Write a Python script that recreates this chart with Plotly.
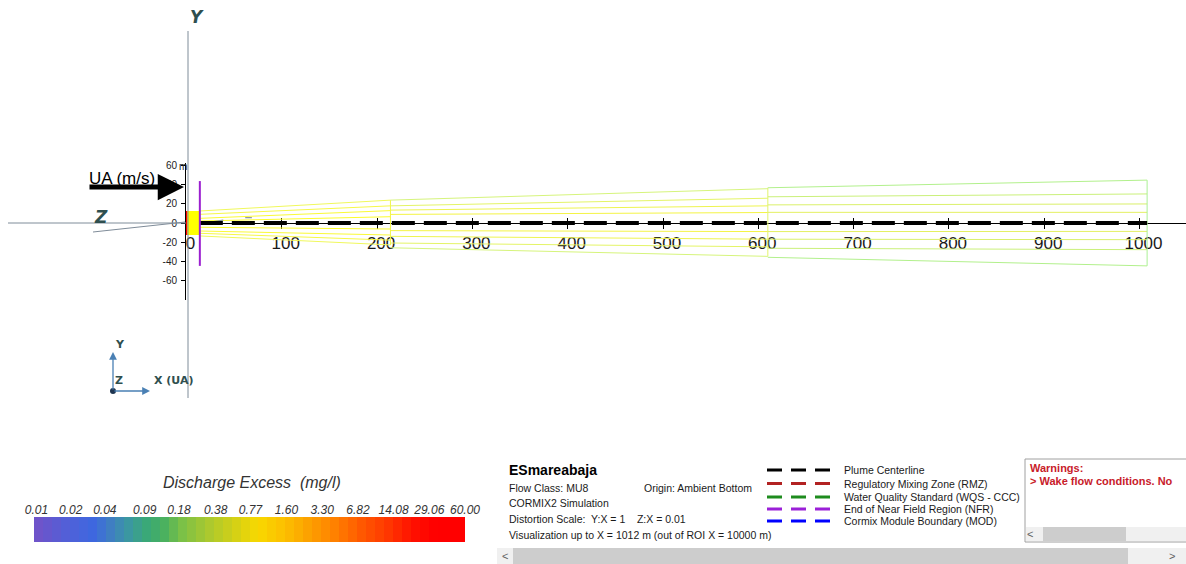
import numpy as np
import plotly.graph_objects as go

W, H = 1186, 564
FONT = "Liberation Sans, Arial, sans-serif"

# ---------------- plume geometry (metres) ----------------
# downstream stations where the plume outline sections break
section_x = [14, 214, 610, 1008]

# lateral offsets of the outline contours at the start / end of each section
# (outermost upper contour first, outermost lower contour last)
contour_start = [
    [12.6, 9.1, 4.9, 2.1, -4.5, -8.4, -10.8, -13.6],
    [24.0, 18.0, 13.5, 9.0, -8.0, -14.0, -21.0, -26.0],
    [37.0, 27.5, 19.0, 11.2, -9.0, -17.0, -26.5, -36.0],
]
contour_end = [
    [24.0, 18.0, 13.0, 6.6, -6.3, -12.6, -18.0, -23.0],
    [36.0, 26.0, 18.0, 11.0, -9.0, -17.0, -25.0, -35.0],
    [45.0, 30.5, 20.0, 11.2, -8.8, -17.5, -28.0, -45.0],
]
contour_colors = [
    ["#F0F85C", "#F6F848", "#FAFA36", "#FCFC2C", "#FCFC2C", "#FAFA36", "#F6F848", "#F0F85C"],
    ["#D6F47C", "#E4F466", "#EEF450", "#F4F444", "#F4F444", "#EEF450", "#E4F466", "#D6F47C"],
    ["#B2F08C", "#CAF07A", "#DAF06A", "#E4F060", "#E4F060", "#DAF06A", "#CAF07A", "#B2F08C"],
]
# closing cross-sections at the end of each section
section_span = [(-23.0, 24.0), (-35.0, 37.0), (-45.0, 45.0)]
section_colors = ["#F2F548", "#E2F46C", "#AAF096"]

centerline_x = [14, 1008]
centerline_y = [0, 0]

# near-field region
nfr_x = 14
nfr_extent = [-45, 44]
nfr_half_width = 12.6

# short jet trajectory trace near the outfall
jet_x = [22, 38.6, None, 61.6, 68.6]
jet_y = [0.3, 3.1, None, 5.6, 5.6]

x_ticks = [0, 100, 200, 300, 400, 500, 600, 700, 800, 900, 1000]
y_ticks = [-60, -40, -20, 0, 20, 40, 60]
y_tick_text = ["-60", "-40", "-20", "0", "20", "40", "60"]

# ---------------- concentration scale ----------------
cb_labels = ["0.01", "0.02", "0.04", "0.09", "0.18", "0.38", "0.77",
             "1.60", "3.30", "6.82", "14.08", "29.06", "60.00"]
cb_values = [0.01, 0.02, 0.04, 0.09, 0.18, 0.38, 0.77,
             1.60, 3.30, 6.82, 14.08, 29.06, 60.00]
cb_low, cb_high = 0.0095, 60.0
cb_colorscale = [
    [0.00, "#7252C8"], [0.08, "#5060D8"], [0.14, "#3D68E0"], [0.18, "#3F80C0"],
    [0.22, "#3B98A0"], [0.26, "#3AA878"], [0.30, "#48B060"], [0.34, "#78C048"],
    [0.40, "#A8C830"], [0.46, "#D0D018"], [0.52, "#F8D800"], [0.58, "#FCC000"],
    [0.64, "#FCA000"], [0.70, "#FF8000"], [0.76, "#FF5800"], [0.82, "#FF3800"],
    [0.88, "#FF1000"], [0.93, "#FF0000"], [1.00, "#FF0000"],
]

legend_items = ["Plume Centerline", "Regulatory Mixing Zone (RMZ)",
                "Water Quality Standard (WQS - CCC)", "End of Near Field Region (NFR)",
                "Cormix Module Boundary (MOD)"]
legend_colors = ["#000000", "#B22222", "#1E8C1E", "#9B20D8", "#0000FF"]

# ---------------- page geometry (pixels) ----------------
S = 0.953            # pixels per metre (Y:X = 1)
X0, Y0 = 186.5, 223  # pixel position of the plume origin
AX_LEFT = 185        # pixel column of the vertical tick axis


def px(x):
    return x / W


def py(y):
    return 1 - y / H


fig = go.Figure()

# plume outline contours
for s in range(3):
    for k in range(8):
        fig.add_trace(go.Scatter(
            x=[section_x[s], section_x[s + 1]],
            y=[contour_start[s][k], contour_end[s][k]],
            mode="lines", line=dict(color=contour_colors[s][k], width=1),
            hoverinfo="skip", showlegend=False))
    fig.add_trace(go.Scatter(
        x=[section_x[s + 1]] * 2, y=list(section_span[s]),
        mode="lines", line=dict(color=section_colors[s], width=1),
        hoverinfo="skip", showlegend=False))

# near-field zone
fig.add_trace(go.Scatter(
    x=[0, nfr_x, nfr_x, 0], y=[nfr_half_width, nfr_half_width, -nfr_half_width, -nfr_half_width],
    fill="toself", fillcolor="#FFFF00", mode="lines", line=dict(width=0),
    hoverinfo="skip", showlegend=False))
fig.add_trace(go.Scatter(
    x=[0, 0], y=[-nfr_half_width, nfr_half_width], mode="lines",
    line=dict(color="#FF0000", width=1.5), hoverinfo="skip", showlegend=False))

fig.add_trace(go.Scatter(
    x=jet_x, y=jet_y, mode="lines", line=dict(color="#8A949E", width=1.2),
    hoverinfo="skip", showlegend=False))

# plume centerline
fig.add_trace(go.Scatter(
    x=centerline_x, y=centerline_y, mode="lines",
    line=dict(color="#000000", width=4, dash="23px,9px"),
    hoverinfo="skip", showlegend=False))

# end of near field region
fig.add_trace(go.Scatter(
    x=[nfr_x, nfr_x], y=nfr_extent, mode="lines",
    line=dict(color="#9B1FD0", width=2), hoverinfo="skip", showlegend=False))

# carrier for the upward half of the cross ticks
fig.add_trace(go.Scatter(x=[0], y=[0], xaxis="x2", yaxis="y", mode="markers",
                         marker=dict(opacity=0), hoverinfo="skip", showlegend=False))

# concentration colour bar
edges = np.geomspace(cb_low, cb_high, 49)
centers = np.log10(np.sqrt(edges[:-1] * edges[1:]))
fig.add_trace(go.Heatmap(
    x=edges, y=[0, 1], z=[centers], xaxis="x3", yaxis="y3",
    colorscale=cb_colorscale, zmin=np.log10(cb_low), zmax=np.log10(cb_high),
    showscale=False, hoverinfo="skip"))

xr = [(AX_LEFT - X0) / S, (W - X0) / S]
yr = [(Y0 - 300) / S, (Y0 - 163) / S]

shapes = []
annotations = []

# projected axes on the left
shapes.append(dict(type="line", xref="paper", yref="paper", x0=px(188), x1=px(188),
                   y0=py(31), y1=py(398), line=dict(color="#7F8C99", width=1)))
shapes.append(dict(type="line", xref="paper", yref="paper", x0=px(8), x1=px(186),
                   y0=py(223), y1=py(223), line=dict(color="#7F8C99", width=1)))
shapes.append(dict(type="line", xref="paper", yref="paper", x0=px(93), x1=px(185),
                   y0=py(232), y1=py(222), line=dict(color="#7F8C99", width=1)))

axis_label_font = dict(family="DejaVu Sans, Arial, sans-serif", size=17, color="#2F4F4F")
annotations.append(dict(xref="paper", yref="paper", x=px(197), y=py(17), text="<b><i>Y</i></b>",
                        showarrow=False, font=axis_label_font, xanchor="center", yanchor="middle"))
annotations.append(dict(xref="paper", yref="paper", x=px(101), y=py(217), text="<b><i>Z</i></b>",
                        showarrow=False, font=axis_label_font, xanchor="center", yanchor="middle"))

# ambient current arrow
annotations.append(dict(xref="paper", yref="paper", x=px(184), y=py(187), text="",
                        showarrow=True, axref="pixel", ayref="pixel", ax=-96, ay=0,
                        arrowhead=2, arrowsize=1.05, arrowwidth=5, arrowcolor="#000000",
                        standoff=0))
annotations.append(dict(xref="paper", yref="paper", x=px(87), y=py(179), text="UA (m/s)",
                        showarrow=False, xanchor="left", yanchor="middle",
                        font=dict(family=FONT, size=17, color="#000000")))

annotations.append(dict(xref="x", yref="y", x=nfr_x, y=(Y0 - 162) / S, text="NFR",
                        textangle=-90, showarrow=False, xanchor="center", yanchor="middle",
                        font=dict(family=FONT, size=11, color="#9B1FD0")))
annotations.append(dict(xref="paper", yref="paper", x=px(183), y=py(166), text="m",
                        showarrow=False, xanchor="center", yanchor="middle",
                        font=dict(family=FONT, size=10, color="#222222")))

# small orientation triad
triad = "#4A80B4"
annotations.append(dict(xref="paper", yref="paper", x=px(113), y=py(352), text="",
                        showarrow=True, axref="pixel", ayref="pixel", ax=0, ay=39,
                        arrowhead=2, arrowsize=1.2, arrowwidth=1.3, arrowcolor=triad, standoff=0))
annotations.append(dict(xref="paper", yref="paper", x=px(150), y=py(391), text="",
                        showarrow=True, axref="pixel", ayref="pixel", ax=-37, ay=0,
                        arrowhead=2, arrowsize=1.2, arrowwidth=1.3, arrowcolor=triad, standoff=0))
shapes.append(dict(type="circle", xref="paper", yref="paper", x0=px(110), x1=px(116),
                   y0=py(394), y1=py(388), fillcolor="#1E3550", line=dict(width=0)))
triad_font = dict(family="DejaVu Sans, Arial, sans-serif", size=11, color="#2F4F4F")
for tx, ty, tt, anchor in [(120, 344, "<b>Y</b>", "center"), (119, 381, "<b>Z</b>", "center"),
                           (152, 381, "<b>X (UA)</b>", "left")]:
    annotations.append(dict(xref="paper", yref="paper", x=px(tx), y=py(ty), text=tt,
                            showarrow=False, xanchor=anchor, yanchor="middle", font=triad_font))

# colour bar title
annotations.append(dict(xref="paper", yref="paper", x=px(252), y=py(482),
                        text="Discharge Excess\u00a0 (mg/l)", showarrow=False,
                        xanchor="center", yanchor="middle",
                        font=dict(family=FONT, size=16, color="#333333", style="italic")))

# case information
info_font = dict(family=FONT, size=10.5, color="#1A1A1A")
annotations.append(dict(xref="paper", yref="paper", x=px(507), y=py(470), text="<b>ESmareabaja</b>",
                        showarrow=False, xanchor="left", yanchor="middle",
                        font=dict(family=FONT, size=14, color="#000000")))
for tx, ty, tt in [(507, 488, "Flow Class: MU8"), (642, 488, "Origin: Ambient Bottom"),
                   (507, 503, "CORMIX2 Simulation"),
                   (507, 519, "Distortion Scale:\u00a0 Y:X = 1\u00a0\u00a0\u00a0 Z:X = 0.01"),
                   (507, 535, "Visualization up to X = 1012 m (out of ROI X = 10000 m)")]:
    annotations.append(dict(xref="paper", yref="paper", x=px(tx), y=py(ty), text=tt,
                            showarrow=False, xanchor="left", yanchor="middle", font=info_font))

# line legend
legend_y = [470, 483.5, 497, 509, 521]
for name, col, ly in zip(legend_items, legend_colors, legend_y):
    shapes.append(dict(type="line", xref="paper", yref="paper", x0=px(767), x1=px(830),
                       y0=py(ly), y1=py(ly), line=dict(color=col, width=3, dash="15px,9px")))
    annotations.append(dict(xref="paper", yref="paper", x=px(842), y=py(ly), text=name,
                            showarrow=False, xanchor="left", yanchor="middle", font=info_font))

# warnings panel
shapes.append(dict(type="rect", xref="paper", yref="paper", x0=px(1025), x1=px(1192),
                   y0=py(542), y1=py(459), fillcolor="#FFFFFF", line=dict(color="#A0A0A0", width=1),
                   layer="below"))
shapes.append(dict(type="rect", xref="paper", yref="paper", x0=px(1026), x1=px(1192),
                   y0=py(541), y1=py(527), fillcolor="#F0F0F0", line=dict(width=0)))
shapes.append(dict(type="rect", xref="paper", yref="paper", x0=px(1043), x1=px(1126),
                   y0=py(541), y1=py(527), fillcolor="#CDCDCD", line=dict(width=0)))
warn_font = dict(family=FONT, size=11, color="#C8202A")
annotations.append(dict(xref="paper", yref="paper", x=px(1028), y=py(468), text="<b>Warnings:</b>",
                        showarrow=False, xanchor="left", yanchor="middle", font=warn_font))
annotations.append(dict(xref="paper", yref="paper", x=px(1028), y=py(481),
                        text="<b>> Wake flow conditions. No</b>",
                        showarrow=False, xanchor="left", yanchor="middle", font=warn_font))

# horizontal scroll bar
shapes.append(dict(type="rect", xref="paper", yref="paper", x0=px(497), x1=px(1186),
                   y0=py(564), y1=py(548), fillcolor="#F0F0F0", line=dict(width=0)))
shapes.append(dict(type="rect", xref="paper", yref="paper", x0=px(513), x1=px(1128),
                   y0=py(564), y1=py(548), fillcolor="#CDCDCD", line=dict(width=0)))
chev = dict(family=FONT, size=11, color="#606060")
for tx, ty, tt in [(505, 556, "<"), (1172, 556, ">"), (1030, 534, "<")]:
    annotations.append(dict(xref="paper", yref="paper", x=px(tx), y=py(ty), text=tt,
                            showarrow=False, xanchor="center", yanchor="middle", font=chev))

fig.update_layout(
    template="none",
    width=W, height=H, autosize=False,
    margin=dict(l=0, r=0, t=0, b=0, pad=0, autoexpand=False),
    paper_bgcolor="#FFFFFF", plot_bgcolor="rgba(0,0,0,0)",
    font=dict(family=FONT, size=11, color="#1A1A1A"),
    showlegend=False,
    xaxis=dict(domain=[px(AX_LEFT), 1], range=xr, anchor="free", position=py(Y0),
               showline=True, linecolor="#000000", linewidth=1,
               ticks="outside", ticklen=5, tickwidth=1, tickcolor="#000000",
               tickvals=x_ticks, ticklabelshift=4, automargin=False,
               tickfont=dict(family=FONT, size=17, color="#1A1A1A"),
               showgrid=False, zeroline=False, layer="below traces", fixedrange=True),
    xaxis2=dict(overlaying="x", range=xr, anchor="free", position=py(Y0),
                ticks="inside", ticklen=5, tickwidth=1, tickcolor="#000000",
                tickvals=x_ticks, showticklabels=False, showline=False, automargin=False,
                showgrid=False, zeroline=False, layer="below traces", fixedrange=True),
    yaxis=dict(domain=[py(300), py(163)], range=yr, anchor="free", position=px(AX_LEFT),
               showline=True, linecolor="#000000", linewidth=1, automargin=False,
               ticks="outside", ticklen=4, tickwidth=1, tickcolor="#000000",
               tickvals=y_ticks, ticktext=y_tick_text, ticklabelstandoff=2,
               tickfont=dict(family=FONT, size=10, color="#222222"),
               showgrid=False, zeroline=False, fixedrange=True),
    xaxis3=dict(domain=[px(34), px(465)], type="log", automargin=False,
                range=[np.log10(cb_low), np.log10(cb_high)], anchor="y3", side="top",
                tickvals=cb_values, ticktext=cb_labels, ticks="",
                tickfont=dict(family=FONT, size=12, color="#333333", style="italic"),
                showgrid=False, zeroline=False, showline=False, fixedrange=True),
    yaxis3=dict(domain=[py(542), py(517)], range=[0, 1], anchor="x3", visible=False,
                automargin=False, fixedrange=True),
    shapes=shapes,
    annotations=annotations,
)

fig.write_html("out.html", include_plotlyjs=True, config={"displayModeBar": False})
